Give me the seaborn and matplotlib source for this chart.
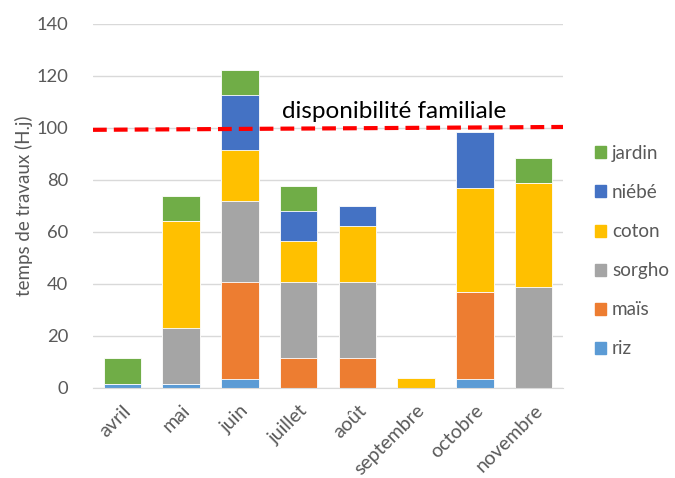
import matplotlib
matplotlib.use("Agg")
import matplotlib.pyplot as plt
import matplotlib.patches as mpatches
import seaborn as sns
import pandas as pd
import numpy as np

months = ["avril", "mai", "juin", "juillet", "août", "septembre", "octobre", "novembre"]
riz    = [1.7, 1.7, 3.6, 0.0, 0.0, 0.0, 3.6, 0.0]
mais   = [0.0, 0.0, 37.2, 11.5, 11.5, 0.0, 33.3, 0.0]
sorgho = [0.0, 21.5, 31.1, 29.3, 29.3, 0.0, 0.0, 38.8]
coton  = [0.0, 40.9, 19.5, 15.6, 21.5, 3.8, 39.9, 39.9]
niebe  = [0.0, 0.0, 21.3, 11.6, 7.7, 0.0, 21.6, 0.0]
jardin = [9.8, 9.7, 9.8, 9.7, 0.0, 0.0, 0.0, 9.8]
dispo_x = [-0.5, 7.5]
dispo_y = [99.3, 100.4]

series = [("riz", riz, "#5B9BD5"), ("maïs", mais, "#ED7D31"), ("sorgho", sorgho, "#A5A5A5"),
          ("coton", coton, "#FFC000"), ("niébé", niebe, "#4472C4"), ("jardin", jardin, "#70AD47")]

sns.set_style("white")
plt.rcParams['font.family'] = ['Lato', 'DejaVu Sans']
txt = "#595959"

fig = plt.figure(figsize=(6.75, 4.78), dpi=100)
ax = fig.add_axes([93/675, 1-388/478, (563-93)/675, (388-24)/478])

cum = np.zeros(len(months))
cums = []
for name, vals, col in series:
    cum = cum + np.array(vals)
    cums.append((name, cum.copy(), col))

for name, c, col in reversed(cums):
    d = pd.DataFrame({"month": months, "v": c})
    sns.barplot(data=d, x="month", y="v", color=col, saturation=1, width=0.64,
                edgecolor="white", linewidth=0.6, ax=ax, order=months)

ax.plot(dispo_x, dispo_y, color="#FF0000", lw=3, dashes=(3.3, 1.7), zorder=5, clip_on=False)
ax.text(2.72, 106.5, "disponibilité familiale", fontsize=17.5, color="black", va="center", ha="left")

ax.set_xlim(-0.5, 7.5)
ax.set_ylim(0, 140)
ax.set_yticks(range(0, 141, 20))
ax.yaxis.grid(True, color="#D9D9D9", lw=1)
ax.set_axisbelow(True)
for s in ["left", "right", "top"]:
    ax.spines[s].set_visible(False)
ax.spines["bottom"].set_color("#D9D9D9")
ax.tick_params(axis="both", length=0, colors=txt)
ax.tick_params(axis="y", pad=18, labelsize=13.2)
ax.set_xticks(range(len(months)))
ax.set_xticklabels(months, rotation=45, ha="right", rotation_mode="anchor")
ax.tick_params(axis="x", pad=10, labelsize=14)
ax.set_xlabel("")
ax.set_ylabel("temps de travaux (H.j)", fontsize=13.5, color=txt, labelpad=2)

handles = [mpatches.Patch(color=col, label=name) for name, vals, col in reversed(series)]
leg = fig.legend(handles=handles, loc="upper left", bbox_to_anchor=(578/675, 1-128/478),
                 frameon=False, fontsize=13.6, handlelength=0.6, handleheight=0.6,
                 handletextpad=0.3, labelspacing=1.17)
for t in leg.get_texts():
    t.set_color(txt)

fig.savefig("out.png", dpi=100)
